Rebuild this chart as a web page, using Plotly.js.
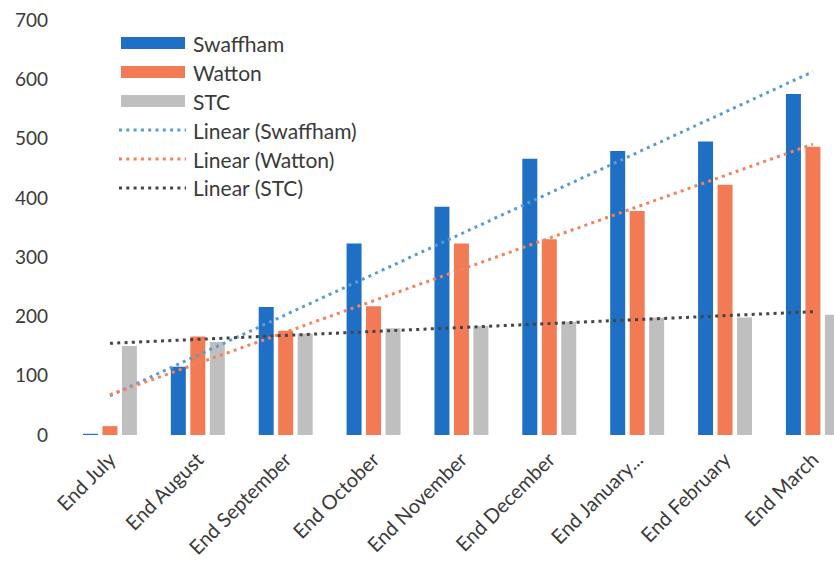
<!DOCTYPE html>
<html>
<head>
<meta charset="utf-8">
<script src="https://cdn.plot.ly/plotly-3.0.1.min.js"></script>
<style>html,body{margin:0;padding:0;background:#fff;}#chart{width:834px;height:571px;}</style>
</head>
<body>
<div id="chart"></div>
<script>
const categories = ["End July","End August","End September","End October","End November","End December","End January...","End February","End March"];
const swaffham = [2,115,216,323,385,466,479,495,575];
const watton   = [15,166,176,217,323,330,378,422,486];
const stc      = [150,157,171,180,184,191,198,198,203];
const yTicks = [0,100,200,300,400,500,600,700];

function linearFit(vals){
  const n = vals.length;
  let sx=0, sy=0, sxx=0, sxy=0;
  vals.forEach((v,i)=>{sx+=i; sy+=v; sxx+=i*i; sxy+=i*v;});
  const b = (n*sxy - sx*sy)/(n*sxx - sx*sx);
  const a = (sy - b*sx)/n;
  return vals.map((v,i)=>a+b*i);
}

const C_SW = '#1f70c4', C_WA = '#f27a55', C_ST = '#bfbfbf';
const T_SW = '#5b9bd5', T_WA = '#f4825c', T_ST = '#454545';
const FONT = 'Lato, "Open Sans", sans-serif';
const TXT = '#3a3a3a';

const traces = [
  {type:'bar', name:'Swaffham', x:categories, y:swaffham, marker:{color:C_SW}},
  {type:'bar', name:'Watton', x:categories, y:watton, marker:{color:C_WA}},
  {type:'bar', name:'STC', x:categories, y:stc, marker:{color:C_ST}},
  {type:'scatter', mode:'lines', name:'Linear (Swaffham)', x:categories, y:linearFit(swaffham), line:{color:T_SW, width:3, dash:'3px,4.3px'}},
  {type:'scatter', mode:'lines', name:'Linear (Watton)', x:categories, y:linearFit(watton), line:{color:T_WA, width:3, dash:'3px,4.3px'}},
  {type:'scatter', mode:'lines', name:'Linear (STC)', x:categories, y:linearFit(stc), line:{color:T_ST, width:3, dash:'3px,4.3px'}}
];

// custom legend (pixel -> paper helpers)
const L = 66, W = 768, T = 20, H = 415;
const px = x => (x - L)/W;
const py = y => (T + H - y)/H;
const shapes = [];
const annotations = [];
const legendItems = [
  {name:'Swaffham', kind:'bar', color:C_SW, y:43},
  {name:'Watton', kind:'bar', color:C_WA, y:72},
  {name:'STC', kind:'bar', color:C_ST, y:101},
  {name:'Linear (Swaffham)', kind:'line', color:T_SW, y:130},
  {name:'Linear (Watton)', kind:'line', color:T_WA, y:159},
  {name:'Linear (STC)', kind:'line', color:T_ST, y:188}
];
legendItems.forEach(it=>{
  if(it.kind==='bar'){
    shapes.push({type:'rect', xref:'paper', yref:'paper', x0:px(121), x1:px(185), y0:py(it.y+6), y1:py(it.y-6), fillcolor:it.color, line:{width:0}});
  } else {
    shapes.push({type:'line', xref:'paper', yref:'paper', x0:px(119), x1:px(186), y0:py(it.y), y1:py(it.y), line:{color:it.color, width:3, dash:'3px,4.3px'}});
  }
  annotations.push({xref:'paper', yref:'paper', x:px(191), y:py(it.y), xanchor:'left', yanchor:'middle', text:it.name, showarrow:false, font:{family:FONT, size:21, color:TXT}});
});

const layout = {
  width:834, height:571,
  margin:{l:L, r:0, t:T, b:571-T-H},
  paper_bgcolor:'#fff', plot_bgcolor:'#fff',
  barmode:'group', bargap:0.335, bargroupgap:0.23,
  showlegend:false,
  font:{family:FONT, color:TXT},
  xaxis:{type:'category', range:[-0.5, 8.24], showgrid:false, zeroline:false, showline:false, ticks:'', tickangle:-45, ticklabelstandoff:8, tickfont:{family:FONT, size:20, color:TXT}, fixedrange:true},
  yaxis:{range:[0,700], tickvals:yTicks, ticktext:yTicks.map(String), showgrid:false, zeroline:false, showline:false, ticks:'', ticklabelstandoff:17, tickfont:{family:FONT, size:19, color:TXT}, fixedrange:true},
  shapes:shapes,
  annotations:annotations
};

Plotly.newPlot('chart', traces, layout, {staticPlot:true, displayModeBar:false});
</script>
</body>
</html>
